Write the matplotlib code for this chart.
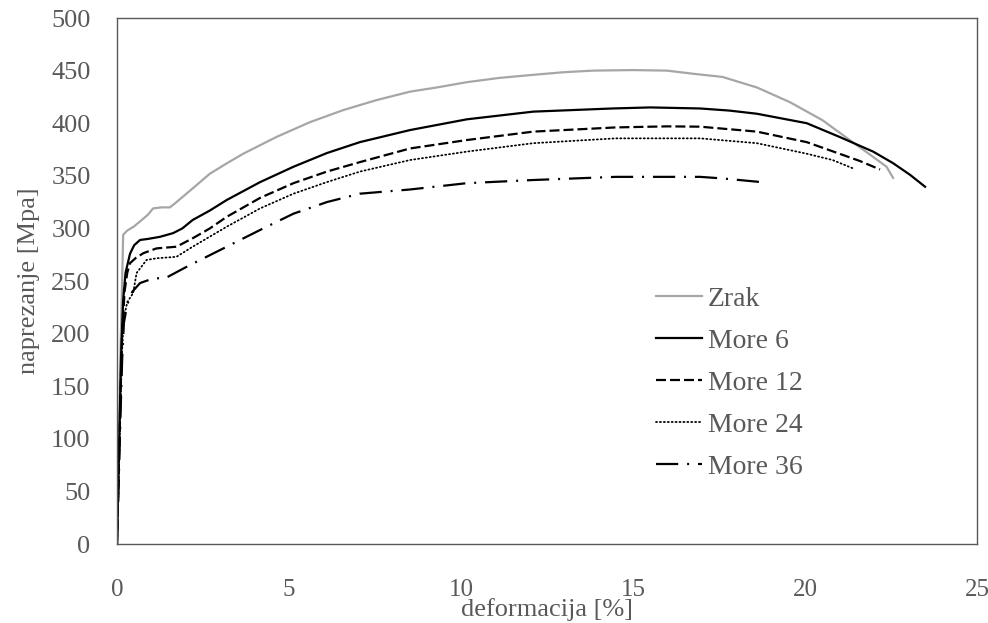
import matplotlib
matplotlib.use('Agg')
import matplotlib.pyplot as plt

plt.rcParams['font.family'] = ['Liberation Serif', 'DejaVu Serif']

# curve data
zrak_x = [0, 0.05, 0.1, 0.15, 0.18, 0.3, 0.5, 0.72, 0.9, 1.05, 1.3, 1.54, 1.73, 2.2, 2.7,
          3.2, 3.67, 4.64, 5.61, 6.58, 7.55, 8.52, 9.3, 10.17, 11.1, 12.1, 13.0, 13.85,
          15.0, 15.98, 16.75, 17.6, 18.6, 19.56, 20.5, 21.3, 21.98, 22.37, 22.56]
zrak_y = [0, 90, 180, 250, 294, 298, 302, 308, 313, 319, 320, 320, 325, 338, 352,
          362, 371, 387, 401, 412.5, 422, 430, 434, 439, 443, 446, 448.5, 450,
          450.5, 450, 447, 444, 434, 420, 403, 384, 368, 358.6, 348]

more6_x = [0, 0.04, 0.08, 0.12, 0.18, 0.25, 0.38, 0.5, 0.67, 0.9, 1.25, 1.63, 1.9, 2.2,
           2.7, 3.19, 4.16, 5.13, 6.1, 7.06, 8.52, 10.17, 12.1, 14.4, 15.5, 16.95, 17.8,
           18.6, 20.05, 21.0, 21.98, 22.56, 23.05, 23.49]
more6_y = [0, 60, 120, 180, 232, 258, 276, 284, 289, 290, 292, 295.5, 300, 308,
           317, 327, 344, 358.6, 371.6, 382, 393.5, 403.7, 411, 414, 415, 414, 412,
           409, 400, 387, 373, 362, 351, 339.6]

more12_x = [0, 0.05, 0.1, 0.15, 0.22, 0.3, 0.38, 0.55, 0.77, 1.15, 1.73, 2.2, 2.7, 3.19,
            4.16, 5.13, 6.1, 7.06, 8.52, 10.17, 12.1, 14.5, 16.0, 16.95, 18.6, 20.05,
            21.0, 21.6, 22.18]
more12_y = [0, 70, 140, 200, 240, 258, 267, 272, 276.5, 281, 282.6, 290.6, 300, 311,
            329, 343, 354, 363, 376, 384, 392, 396, 397, 396.7, 392, 382,
            371, 364, 356]

more24_x = [0, 0.05, 0.1, 0.15, 0.2, 0.3, 0.47, 0.57, 0.86, 1.15, 1.73, 2.2, 3.19, 4.16,
            5.13, 6.1, 7.06, 8.52, 10.17, 12.1, 14.5, 16.95, 18.6, 20.05, 20.8, 21.4]
more24_y = [0, 60, 130, 185, 215, 230, 238.5, 257.6, 270, 271.6, 273, 282.6, 301.6, 319,
            333, 344, 354, 365, 373, 381, 385.6, 385.6, 381, 371, 365, 357]

more36_x = [0, 0.05, 0.1, 0.15, 0.2, 0.3, 0.45, 0.67, 1.06, 1.4, 2.03, 3.19, 4.16, 5.13,
            6.1, 7.06, 8.52, 10.17, 12.1, 14.5, 16.95, 17.6, 18.9]
more36_y = [0, 60, 120, 175, 210, 228, 240, 248, 252.6, 252.6, 263.6, 282.6, 298.5, 314,
            325, 333, 337, 343, 346, 349, 349, 347.5, 343.5]

labels = ['Zrak', 'More 6', 'More 12', 'More 24', 'More 36']
x_ticks = [0, 5, 10, 15, 20, 25]
y_ticks = [0, 50, 100, 150, 200, 250, 300, 350, 400, 450, 500]

grey = '#595959'
lw = 1.6

fig = plt.figure(figsize=(9.88, 6.23), dpi=100)
ax = fig.add_axes([0.1184, 0.1268, 0.8705, 0.8443])

ax.plot(zrak_x, zrak_y, color='#a6a6a6', lw=lw, label=labels[0])
ax.plot(more6_x, more6_y, color='black', lw=lw, label=labels[1])
ax.plot(more12_x, more12_y, color='black', lw=lw, linestyle=(0, (4.5, 1.8)), label=labels[2])
ax.plot(more24_x, more24_y, color='black', lw=lw * 0.8, linestyle=(0, (0.6, 1.6)),
        dash_capstyle='round', label=labels[3])
ax.plot(more36_x, more36_y, color='black', lw=lw, linestyle=(0, (10, 4, 0.9, 4)),
        label=labels[4])

ax.set_xlim(0, 25)
ax.set_ylim(0, 500)
ax.set_xticks(x_ticks)
ax.set_yticks(y_ticks)
ax.tick_params(length=0, labelcolor=grey)
ax.tick_params(axis='y', pad=19, labelsize=19)
ax.tick_params(axis='x', pad=25, labelsize=18)
for s in ax.spines.values():
    s.set_color(grey)
    s.set_linewidth(1.0)

ax.set_xlabel('deformacija [%]', fontsize=19, color=grey, labelpad=-2)
ax.set_ylabel('naprezanje [Mpa]', fontsize=19, color=grey, labelpad=8)

leg = ax.legend(loc='upper left', bbox_to_anchor=(0.627, 0.49), frameon=False,
                fontsize=20, handlelength=1.65, handletextpad=0.2, labelspacing=0.6,
                borderaxespad=0, borderpad=0)
for t in leg.get_texts():
    t.set_color(grey)

plt.savefig('out.png', dpi=100)
